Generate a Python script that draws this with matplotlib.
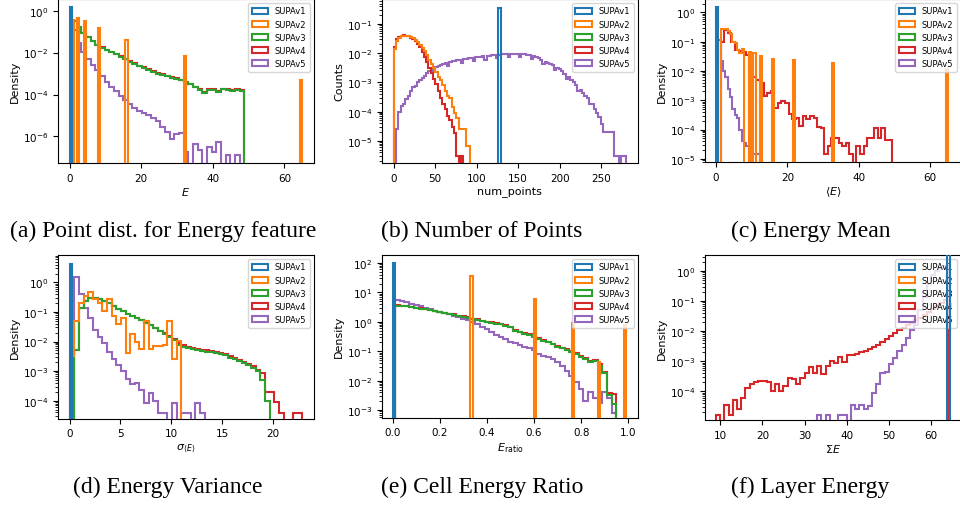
import numpy as np
import matplotlib
matplotlib.use("Agg")
import matplotlib.pyplot as plt
from matplotlib.ticker import MultipleLocator, LogLocator

# ---- data (densities, stored as log10 values; None = empty bin) ----
LABELS = ["SUPAv1", "SUPAv2", "SUPAv3", "SUPAv4", "SUPAv5"]
COLORS = ["tab:blue", "tab:orange", "tab:green", "tab:red", "tab:purple"]

# (a) point energy E
A_BLUE_X, A_BLUE = [0.3], [0.19]
A_ORANGE_X = [1.0, 2.3, 4.2, 8.1, 16.1, 32.2, 64.7]
A_ORANGE = [-0.43, -0.37, -0.5, -0.84, -1.38, -2.17, -3.3]
A_GREEN = [-0.5, -0.8, -1.07, -1.26, -1.46, -1.64, -1.77, -1.89, -1.98, -2.07, -2.19, -2.32,
           -2.43, -2.54, -2.64, -2.72, -2.82, -2.92, -3.0, -3.06, -3.13, -3.19, -3.26, -3.33,
           -3.41, -3.51, -3.66, -3.8, -3.94, -3.8, -3.78, -3.9, -3.76, -3.8, -3.85, -3.8, -3.82]
A_RED = [-0.48, -0.78, -1.05, -1.24, -1.44, -1.62, -1.75, -1.87, -1.96, -2.05, -2.17, -2.3,
         -2.41, -2.52, -2.62, -2.7, -2.79, -2.89, -2.97, -3.03, -3.1, -3.16, -3.23, -3.3,
         -3.38, -3.48, -3.62, -3.76, -3.88, -3.76, -3.74, -3.84, -3.72, -3.76, -3.8, -3.76, -3.78]
A_PURPLE = [-0.9, -1.52, -1.96, -2.3, -2.58, -2.85, -3.12, -3.38, -3.62, -3.85, -4.07, -4.28,
            -4.47, -4.62, -4.77, -4.9, -5.0, -5.1, -5.26, -5.55, -5.8, -6.1, -5.87, -5.82,
            -6.75, None, -6.35, -6.67, None, -6.52, -6.75, -6.26, None, -6.87, None, -6.87]

# (b) num_points
B_BLUE_X, B_BLUE = [127.4], [-0.45]
B_ORANGE = [-1.85, -1.57, -1.47, -1.42, -1.4, -1.4, -1.41, -1.44, -1.49, -1.55, -1.62, -1.72,
            -1.82, -1.92, -2.07, -2.22, -2.38, -2.49, -2.64, -2.8, -2.92, -3.1, -3.3, -3.46,
            -3.52, -3.85, -4.05, -4.22, -4.6, -4.6, -4.6, -5.17, -5.17]
B_RED = [-1.8, -1.52, -1.43, -1.4, -1.39, -1.4, -1.42, -1.47, -1.52, -1.59, -1.68, -1.8,
         -1.96, -2.12, -2.3, -2.49, -2.66, -2.89, -3.05, -3.3, -3.52, -3.74, -3.92, -4.15,
         -4.3, -4.52, -4.74, -5.51, None, -5.51]
B_PURPLE = [-4.6, -4.0, -3.8, -3.75, -3.57, -3.45, -3.28, -3.15, -3.11, -3.0, -2.92, -2.85,
            -2.77, -2.68, -2.6, -2.54, -2.62, -2.48, -2.45, -2.42, -2.38, -2.34, -2.44, -2.3,
            -2.28, -2.26, -2.24, -2.22, -2.32, -2.2, -2.19, -2.17, -2.16, -2.27, -2.14, -2.13,
            -2.12, -2.11, -2.22, -2.09, -2.08, -2.07, -2.06, -2.17, -2.05, -2.04, -2.03, -2.03,
            -2.14, -2.02, -2.01, -2.01, -2.01, -2.12, -2.02, -2.03, -2.05, -2.07, -2.2, -2.1,
            -2.14, -2.18, -2.22, -2.36, -2.29, -2.33, -2.38, -2.42, -2.58, -2.5, -2.55, -2.62,
            -2.7, -2.88, -2.82, -2.9, -3.0, -3.1, -3.3, -3.25, -3.35, -3.45, -3.55, -3.75,
            -3.75, -3.9, -4.05, -4.2, -4.42, -4.71, -4.71, -4.71, -4.71, -4.71, -5.51, -5.51,
            None, -5.51, -5.51]

# (c) mean energy <E>
C_BLUE_X, C_BLUE = [0.3], [0.19]
C_ORANGE_X = [1.625, 2.275, 2.925, 3.575, 4.225, 4.875, 5.525, 6.175, 6.825, 7.475, 9.425,
              10.725, 12.675, 15.925, 21.775, 32.825, 64.675]
C_ORANGE = [-0.57, -0.57, -0.57, -0.62, -0.75, -1.0, -1.05, -1.3, -1.37, -1.25, -1.36,
            -1.4, -1.49, -1.6, -1.62, -1.74, -1.92]
C_RED = [-1.0, -0.6, -0.7, -1.0, -1.3, -1.33, -1.36, -1.45, -2.17, -2.2, -2.3, -2.4,
         -2.86, -2.74, -2.68, -3.25, -3.08, -3.02, -3.1, -3.48, -3.65, -3.62, -3.88, -3.54,
         -3.65, -3.55, -3.6, -3.93, -3.95, -4.85, -4.57, -4.3, -4.28, -4.45, -4.57, -4.45,
         -4.85, None, -4.57, -4.85, -4.57, -4.28, -4.28, -3.95, -4.3, -3.95, -4.35, -4.35]
C_PURPLE = [-0.95, -1.66, -2.0, -2.2, -2.6, -2.9, -3.3, -3.5, -3.6, -4.0, -4.4, -4.45,
            -4.57, -4.57, -4.85, -4.85, -4.85, -4.85]

# (d) sigma_<E>
D_BLUE_X, D_BLUE = [0.11], [0.64]
D_ORANGE = [-2.5, -1.3, -0.68, -0.45, -0.32, -0.57, -0.68, -0.95, -0.57, -1.13, -1.41, -1.2,
            -2.37, -1.75, -2.03, -2.26, -1.3, -2.26, -2.15, -2.15, -2.1, -1.3, -2.6, -1.98]
D_GREEN = [-2.3, -0.85, -0.62, -0.54, -0.54, -0.57, -0.62, -0.7, -0.78, -0.9, -0.98, -1.05,
           -1.12, -1.2, -1.28, -1.36, -1.44, -1.55, -1.65, -1.75, -1.85, -1.95, -2.1, -2.17,
           -2.22, -2.26, -2.3, -2.32, -2.34, -2.36, -2.4, -2.43, -2.47, -2.55, -2.6, -2.66,
           -2.72, -2.8, -2.88, -3.0, -3.3, -4.0]
D_RED = [-2.3, -0.85, -0.62, -0.54, -0.54, -0.57, -0.62, -0.7, -0.78, -0.9, -0.98, -1.05,
         -1.12, -1.2, -1.28, -1.36, -1.43, -1.53, -1.63, -1.72, -1.82, -1.92, -2.06, -2.13,
         -2.18, -2.22, -2.26, -2.28, -2.3, -2.32, -2.35, -2.39, -2.43, -2.5, -2.56, -2.62,
         -2.68, -2.76, -2.84, -2.95, -3.05, -3.7, -3.72, -4.05, -4.4, None, None, -4.41, -4.41]
D_PURPLE = [0.2, -0.4, -0.85, -1.2, -1.6, -1.85, -2.05, -2.35, -2.6, -2.8, -3.0, -3.25,
            -3.45, -3.4, -3.65, -4.07, -3.75, -4.0, -4.41, -4.41, None, -4.07, None, -4.41,
            -4.41, None, -4.07, -4.41]

# (e) E_ratio
E_BLUE_X, E_BLUE = [0.005], [2.0]
E_ORANGE_X = [0.335, 0.605, 0.765, 0.875, 0.985]
E_ORANGE = [1.57, 0.77, -0.05, -1.36, -0.11]
E_GREEN = [0.55, 0.54, 0.52, 0.5, 0.47, 0.45, 0.42, 0.39, 0.36, 0.33, 0.3, 0.27, 0.24, 0.2,
           0.17, 0.14, 0.1, 0.07, 0.03, 0.0, -0.03, -0.06, -0.09, -0.13, -0.17, -0.3, -0.36,
           -0.4, -0.45, -0.5, -0.57, -0.64, -0.7, -0.77, -0.84, -0.9, -0.97, -1.03, -1.1,
           -1.18, -1.25, -1.38, -1.32, -1.5, -1.75, -2.5, -2.8]
E_RED = [0.56, 0.55, 0.53, 0.51, 0.48, 0.46, 0.43, 0.4, 0.37, 0.34, 0.31, 0.28, 0.25, 0.21,
         0.18, 0.15, 0.11, 0.08, 0.04, 0.01, -0.02, -0.05, -0.08, -0.12, -0.16, -0.28, -0.34,
         -0.38, -0.43, -0.48, -0.55, -0.62, -0.68, -0.75, -0.82, -0.88, -0.94, -1.0, -1.07,
         -1.15, -1.22, -1.33, -1.3, -1.45, -1.7, -2.41, -2.45]
E_PURPLE = [0.74, 0.71, 0.67, 0.62, 0.56, 0.52, 0.47, 0.43, 0.38, 0.33, 0.29, 0.25, 0.21,
            0.16, 0.11, 0.05, -0.02, -0.08, -0.17, -0.25, -0.33, -0.45, -0.52, -0.6, -0.68,
            -0.73, -0.8, -0.85, -0.9, -0.96, -1.08, -1.15, -1.2, -1.28, -1.36, -1.5, -1.68,
            -1.85, -2.05, -2.3, -2.7, -2.4, -2.6, -2.75, -2.4, -2.6, -3.1]

# (f) layer energy sum E
F_BLUE_X, F_BLUE = [64.1], [1.0]
F_RED = [-4.78, None, -4.45, -4.78, -4.28, -4.6, -4.22, -3.9, -3.77, -3.71, -3.66, -3.66,
         -3.7, -3.98, -3.75, -3.98, -3.83, -3.55, -3.6, -3.75, -3.55, -3.4, -3.21, -3.38,
         -3.15, -3.43, -3.15, -2.98, -3.05, -2.87, -3.04, -2.81, -2.8, -2.76, -2.7, -2.65,
         -2.58, -2.53, -2.45, -2.35, -2.25, -2.15, -2.08, -1.97, -1.9, -1.8, -1.72, -1.62,
         -1.55, -1.46, -1.35, -1.25, -1.15, -1.05, -0.95]
F_PURPLE = [-4.78, None, -4.78, None, None, -4.78, -4.78, None, -4.45, -4.6, -4.45, -4.6,
            -4.5, -4.05, -3.77, -3.4, -3.35, -3.1, -2.9, -2.65, -2.45, -2.22, -1.97, -1.8,
            -1.3, -0.85, -0.45, -0.15, 0.0, 0.1, 0.15]

CAPTIONS = ["(a) Point dist. for Energy feature", "(b) Number of Points", "(c) Energy Mean",
            "(d) Energy Variance", "(e) Cell Energy Ratio", "(f) Layer Energy"]

ZORD = [6, 4.6, 4.2, 3.8, 3.4]


def dens(logs):
    return [0.0 if v is None else 10.0 ** v for v in logs]


def steps(ax, lo, width, logs, k):
    # consecutive bins of equal width starting at lo
    edges = lo + width * np.arange(len(logs) + 1)
    ax.hist(edges[:-1] + width / 2, bins=edges, weights=dens(logs), histtype='step',
            color=COLORS[k], lw=1.5, zorder=ZORD[k], label=LABELS[k])


def spikes(ax, grid, xs, logs, k):
    ax.hist(xs, bins=grid, weights=dens(logs), histtype='step',
            color=COLORS[k], lw=1.5, zorder=ZORD[k], label=LABELS[k])


def empty(ax, grid, k):
    ax.hist([], bins=grid, histtype='step', color=COLORS[k], lw=1.5,
            zorder=ZORD[k], label=LABELS[k])


W, H = 960, 506
fig = plt.figure(figsize=(W / 100, H / 100), dpi=100)


def axes_px(l, r, t, b):
    return fig.add_axes([l / W, 1 - b / H, (r - l) / W, (b - t) / H])


def finish(ax, xlim, ylim, xlabel, ylabel="Density", xstep=None):
    ax.set_yscale('log')
    ax.set_xlim(*xlim)
    ax.set_ylim(*ylim)
    if xstep:
        ax.xaxis.set_major_locator(MultipleLocator(xstep))
    ax.set_xlabel(xlabel, fontsize=8, labelpad=2)
    ax.set_ylabel(ylabel, fontsize=8, labelpad=2)
    ax.tick_params(labelsize=7.5)
    ax.legend(loc='upper right', fontsize=6)


# (a)
ax = axes_px(58, 314, 0, 164)
ax.set_yscale('log')
g = np.linspace(0, 65, 101)
spikes(ax, g, A_BLUE_X, A_BLUE, 0)
spikes(ax, g, A_ORANGE_X, A_ORANGE, 1)
steps(ax, 0.65, 1.3, A_GREEN, 2)
steps(ax, 0.65, 1.3, A_RED, 3)
steps(ax, 0.65, 1.3, A_PURPLE, 4)
finish(ax, (-3.25, 68.25), (5.4e-8, 3.6), "$E$", xstep=20)
ax.yaxis.set_major_locator(LogLocator(base=10, numticks=5))

# (b)
ax = axes_px(382, 637.7, 0, 164)
ax.set_yscale('log')
g = np.linspace(0, 280, 101)
spikes(ax, g, B_BLUE_X, B_BLUE, 0)
steps(ax, 0, 2.8, B_ORANGE, 1)
empty(ax, g, 2)
steps(ax, 0, 2.8, B_RED, 3)
steps(ax, 2.8, 2.8, B_PURPLE, 4)
finish(ax, (-14, 294), (1.74e-6, 0.72), "num_points", "Counts", xstep=50)

# (c)
ax = axes_px(705, 961, 0, 163)
ax.set_yscale('log')
g = np.linspace(0, 65, 101)
spikes(ax, g, C_BLUE_X, C_BLUE, 0)
spikes(ax, g, C_ORANGE_X, C_ORANGE, 1)
empty(ax, g, 2)
steps(ax, 1.3, 1.0, C_RED, 3)
steps(ax, 0.65, 0.65, C_PURPLE, 4)
finish(ax, (-3.1, 68.6), (7.8e-6, 2.86), r"$\langle E\rangle$", xstep=20)

# (d)
ax = axes_px(58, 314, 256, 419.5)
ax.set_yscale('log')
g = np.linspace(0, 22.9, 101)
spikes(ax, g, D_BLUE_X, D_BLUE, 0)
steps(ax, 0, 0.458, D_ORANGE, 1)
steps(ax, 0.458, 0.458, D_GREEN, 2)
steps(ax, 0.458, 0.458, D_RED, 3)
steps(ax, 0.458, 0.458, D_PURPLE, 4)
finish(ax, (-1.15, 24.05), (2.5e-5, 8.5), r"$\sigma_{\langle E\rangle}$", xstep=5)

# (e)
ax = axes_px(382, 637.7, 256, 418.5)
ax.set_yscale('log')
g = np.linspace(0, 1, 101)
spikes(ax, g, E_BLUE_X, E_BLUE, 0)
spikes(ax, g, E_ORANGE_X, E_ORANGE, 1)
steps(ax, 0.01, 0.02, E_GREEN, 2)
steps(ax, 0.01, 0.02, E_RED, 3)
steps(ax, 0.01, 0.02, E_PURPLE, 4)
finish(ax, (-0.045, 1.04), (5.6e-4, 186), r"$E_{\mathrm{ratio}}$", xstep=0.2)

# (f)
ax = axes_px(705, 961, 256, 421)
ax.set_yscale('log')
g = np.linspace(9.3, 65, 101)
spikes(ax, g, F_BLUE_X, F_BLUE, 0)
empty(ax, g, 1)
empty(ax, g, 2)
steps(ax, 9, 1.0, F_RED, 3)
steps(ax, 33, 1.0, F_PURPLE, 4)
finish(ax, (6.4, 67.1), (1.1e-5, 3.4), r"$\Sigma E$", xstep=10)

# sub-figure captions
cx = [163, 482, 811, 168, 482, 810]
for i, cap in enumerate(CAPTIONS):
    y = 231 if i < 3 else 487
    fig.text(cx[i] / W, 1 - y / H, cap, ha='center', va='center',
             family='Liberation Serif', fontsize=17)

fig.savefig("out.png", dpi=100)
